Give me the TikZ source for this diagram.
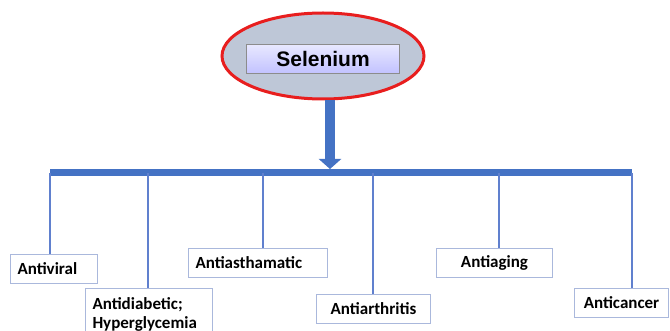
\documentclass[tikz,border=0pt]{standalone}
\usepackage{fontspec}
\setmainfont{Carlito}
\newfontfamily\selfont{Liberation Sans}
\usetikzlibrary{shapes.geometric, arrows.meta}
\definecolor{barblue}{RGB}{68,114,196}
\definecolor{legblue}{RGB}{96,128,206}
\definecolor{boxedge}{RGB}{170,184,220}
\definecolor{ringfill}{RGB}{190,199,215}
\definecolor{ringred}{RGB}{232,30,30}

\begin{document}
\begin{tikzpicture}[x=1pt,y=-1pt,
  effect/.style={draw=boxedge, line width=1pt, fill=white, anchor=north west,
    minimum height=29pt, inner xsep=7pt, inner ysep=0pt,
    font=\fontsize{17}{18.5}\selectfont\bfseries},
  leg/.style={draw=legblue, line width=1.6pt}]
\useasboundingbox (0,0) rectangle (670,331);
% top of the tree
\node[ellipse, draw=ringred, line width=3pt, fill=ringfill, minimum width=202pt, minimum height=86pt] (ring) at (323,56) {};
\node[draw=black!45, line width=1pt, top color=blue!9, bottom color=blue!24, minimum width=153pt, minimum height=29pt,
  font=\selfont\fontsize{21}{24}\selectfont\bfseries] (selenium) at (323,59) {Selenium};
\coordinate (tip) at (330,169);
\draw[barblue, line width=10pt, -{Triangle[width=22pt,length=10pt]}] (ring.south -| tip) -- (tip);
% the bar
\coordinate (b1) at (50,173);
\coordinate (b2) at (148,173);
\coordinate (b3) at (263,173);
\coordinate (b4) at (373,173);
\coordinate (b5) at (499,173);
\coordinate (b6) at (632,173);
\draw[barblue, line width=7pt] (b1) -- (b6);
% effects
\node[effect, text width=73pt, align=left] (viral) at (10,254) {Antiviral};
\node[effect, text width=113pt, align=left, minimum height=52pt] (diabetic) at (85,288) {Antidiabetic;\\Hyperglycemia};
\node[effect, text width=125pt, align=left] (asthma) at (188,248) {Antiasthamatic};
\node[effect, text width=100pt, align=center] (arthritis) at (316,294) {Antiarthritis};
\node[effect, text width=102pt, align=center] (aging) at (436,248) {Antiaging};
\node[effect, text width=80pt, align=center] (cancer) at (574,288) {Anticancer};
\draw[leg] (b1) -- (b1 |- viral.north);
\draw[leg] (b2) -- (b2 |- diabetic.north);
\draw[leg] (b3) -- (b3 |- asthma.north);
\draw[leg] (b4) -- (b4 |- arthritis.north);
\draw[leg] (b5) -- (b5 |- aging.north);
\draw[leg] (b6) -- (b6 |- cancer.north);
\end{tikzpicture}
\end{document}
